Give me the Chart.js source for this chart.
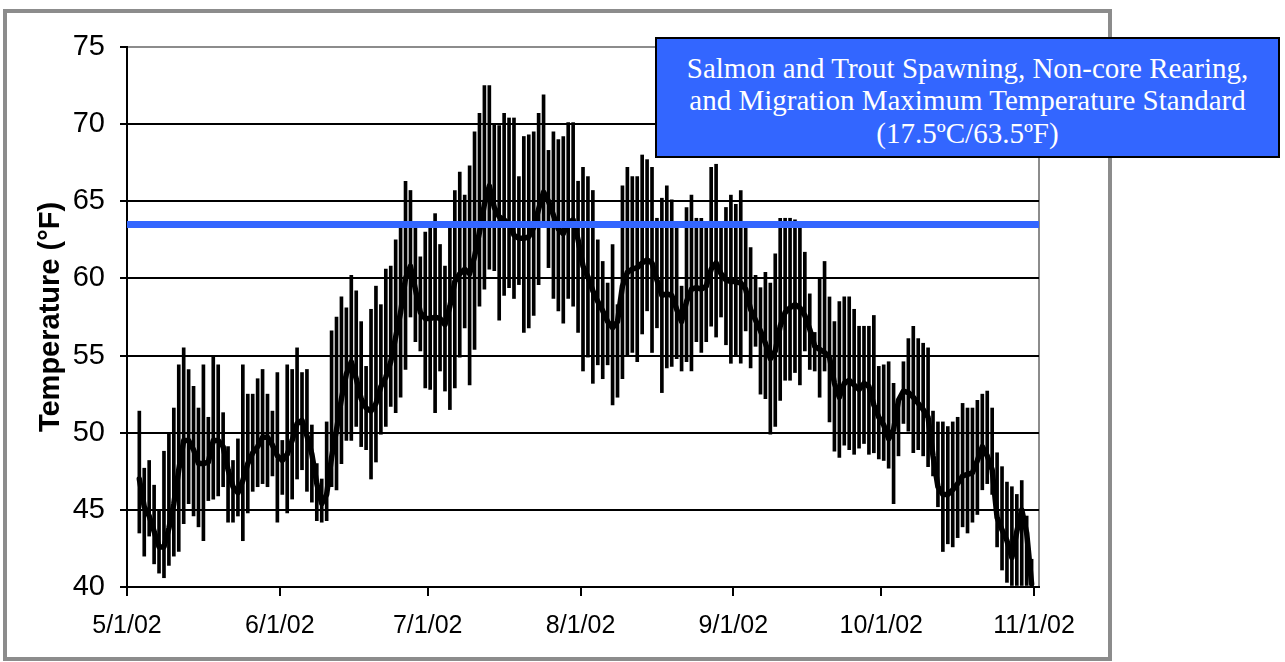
<!DOCTYPE html>
<html>
<head>
<meta charset="utf-8">
<title>Daily stream temperature, May–October 2002</title>
<script src="https://cdn.jsdelivr.net/npm/chart.js@4.4.1/dist/chart.umd.min.js"></script>
<style>
  html, body { margin: 0; padding: 0; background: #ffffff; }
  #wrap { position: relative; width: 1285px; height: 662px; overflow: hidden; }
  #frame { position: absolute; left: 3px; top: 9px; width: 1101px; height: 644px; border: 4px solid #8c8c8c; }
  #chart { position: absolute; left: 0; top: 0; }
  #note {
    position: absolute; left: 655px; top: 37px; width: 621px; height: 111px; padding-top: 6px;
    background: #3366ff; border: 2px solid #000; color: #ffffff;
    font-family: "Liberation Serif", "Times New Roman", serif; font-size: 29px; line-height: 32.5px;
    display: flex; align-items: center; justify-content: center; text-align: center;
  }
</style>
</head>
<body>
<div id="wrap">
  <div id="frame"></div>
  <canvas id="chart" width="1285" height="662"></canvas>
  <div id="note">Salmon and Trout Spawning, Non-core Rearing,<br>and Migration Maximum Temperature Standard<br>(17.5ºC/63.5ºF)</div>
</div>
<script>
// Days are counted from 5/1/02 (day 0); each reading sits in the middle of its day.
const FIRST_DAY = 2; // first record: 5/3/02

// Daily maximum temperature, °F
const dailyMax = [
  51.4, 47.7, 48.2, 46.6, 45.0, 48.8, 50.0, 51.6, 54.4, 55.5,
  54.1, 53.0, 51.6, 54.4, 51.0, 54.9, 54.4, 51.3, 49.1, 48.2,
  49.6, 54.4, 52.5, 52.5, 53.5, 54.1, 52.5, 51.4, 53.9, 49.5,
  54.4, 54.1, 55.5, 53.9, 54.1, 50.5, 48.0, 47.0, 50.7, 56.6,
  57.5, 58.8, 58.1, 60.2, 59.2, 57.2, 54.3, 58.0, 59.5, 58.3,
  60.6, 60.8, 62.5, 63.7, 66.3, 65.7, 63.7, 61.4, 63.0, 63.4,
  64.2, 62.2, 60.8, 63.5, 65.7, 66.9, 65.4, 67.3, 69.5, 70.7,
  72.5, 72.5, 70.0, 69.9, 70.7, 70.4, 70.4, 66.6, 69.2, 69.3,
  69.5, 70.7, 71.9, 68.3, 69.5, 69.0, 69.2, 70.1, 70.1, 66.3,
  67.2, 66.6, 65.7, 62.5, 61.1, 59.7, 62.2, 58.3, 66.0, 67.2,
  66.6, 66.6, 68.0, 67.7, 67.2, 63.9, 65.2, 66.0, 65.1, 63.5,
  59.5, 64.6, 65.4, 63.9, 63.9, 63.7, 67.2, 67.4, 63.4, 64.6,
  65.4, 64.8, 65.7, 63.7, 62.0, 60.2, 59.4, 60.4, 59.7, 61.6,
  63.9, 63.9, 63.9, 63.8, 63.7, 61.7, 59.0, 56.5, 60.0, 61.1,
  58.8, 57.2, 58.5, 58.8, 58.8, 58.0, 56.9, 56.9, 56.9, 57.6,
  54.3, 54.4, 54.6, 53.2, 52.2, 54.6, 56.1, 56.9, 56.1, 55.8,
  55.5, 51.4, 50.7, 50.7, 50.4, 50.7, 51.0, 51.9, 51.6, 51.6,
  52.1, 52.5, 52.7, 51.6, 48.7, 47.8, 46.8, 46.5, 46.0, 46.9,
  44.6, 41.8
];

// Daily minimum temperature, °F
const dailyMin = [
  43.5, 42.0, 43.3, 41.5, 40.9, 40.6, 41.4, 42.0, 42.3, 44.1,
  45.4, 44.6, 43.9, 43.0, 45.6, 45.7, 45.9, 46.5, 44.2, 44.2,
  44.6, 43.0, 44.8, 46.2, 46.5, 46.7, 46.5, 47.2, 44.2, 46.0,
  44.8, 45.7, 47.0, 47.6, 46.2, 45.5, 44.3, 44.2, 44.3, 46.5,
  46.3, 48.0, 49.5, 49.5, 50.4, 49.1, 48.9, 47.0, 48.1, 49.9,
  50.4, 51.7, 51.3, 52.3, 54.1, 57.5, 55.9, 55.3, 52.9, 52.8,
  51.3, 54.0, 52.7, 51.5, 52.9, 54.9, 56.8, 53.1, 55.4, 58.2,
  59.3, 60.6, 60.5, 57.3, 58.9, 59.4, 58.7, 59.6, 56.5, 56.8,
  57.6, 59.6, 63.7, 60.7, 58.7, 57.9, 57.1, 58.7, 58.2, 56.5,
  54.0, 54.9, 53.2, 54.4, 53.5, 54.4, 51.8, 52.3, 53.5, 55.0,
  55.2, 54.6, 56.4, 57.9, 55.2, 56.8, 52.6, 54.2, 54.3, 54.8,
  54.0, 54.6, 54.0, 55.9, 55.2, 55.9, 56.9, 56.2, 57.5, 55.7,
  54.5, 55.0, 54.5, 56.6, 54.2, 55.6, 52.5, 52.2, 49.9, 50.4,
  52.1, 53.4, 53.4, 53.9, 53.1, 55.3, 54.1, 54.0, 52.3, 54.0,
  50.7, 48.8, 48.4, 49.2, 48.9, 48.6, 49.0, 49.3, 48.6, 48.7,
  48.3, 48.2, 47.7, 45.4, 48.5, 50.6, 50.1, 48.7, 48.9, 48.5,
  47.8, 47.2, 45.2, 42.3, 42.8, 42.6, 43.2, 43.9, 43.5, 44.2,
  44.7, 46.3, 46.7, 46.0, 42.6, 41.1, 40.3, 40.1, 40.1, 40.1,
  40.1, 40.0
];

// Daily mean temperature, °F
const dailyMean = [
  47.0, 45.2, 44.6, 43.6, 42.6, 42.6, 43.8, 45.4, 47.6, 49.5,
  49.5, 48.9, 48.0, 48.0, 48.1, 49.5, 49.5, 49.1, 47.6, 46.5,
  46.1, 46.9, 48.0, 48.7, 49.1, 49.7, 49.7, 49.2, 48.5, 48.2,
  48.6, 49.5, 50.6, 50.8, 49.8, 48.6, 46.7, 45.4, 46.0, 48.4,
  50.2, 52.2, 53.8, 54.6, 53.5, 52.2, 51.6, 51.4, 51.9, 53.0,
  53.6, 54.6, 56.2, 57.8, 60.0, 60.8, 59.3, 57.8, 57.4, 57.4,
  57.5, 57.4, 57.0, 58.2, 59.8, 60.3, 60.6, 60.3, 61.4, 63.0,
  64.8, 66.0, 64.6, 64.0, 63.8, 63.5, 62.8, 62.6, 62.6, 62.7,
  63.3, 64.5, 65.6, 65.0, 64.1, 63.2, 62.9, 63.6, 63.8, 62.5,
  60.8, 60.1, 59.2, 58.5, 57.9, 57.2, 56.8, 57.2, 59.5, 60.4,
  60.6, 60.7, 61.0, 61.2, 61.0, 59.9, 58.9, 59.0, 58.9, 58.0,
  57.2, 58.5, 59.3, 59.4, 59.3, 59.5, 60.6, 61.0, 60.3, 59.9,
  59.8, 59.8, 59.7, 59.3, 58.0, 57.3, 56.6, 55.8, 54.8, 55.3,
  56.9, 57.8, 58.1, 58.3, 58.1, 57.6, 56.7, 55.6, 55.4, 55.2,
  54.9, 53.2, 52.3, 53.2, 53.4, 53.1, 52.8, 53.2, 53.0, 51.8,
  51.0, 50.5, 49.6, 50.2, 52.1, 52.7, 52.6, 52.3, 51.9, 51.5,
  51.0, 48.5, 46.5, 46.0, 46.0, 46.3, 46.7, 47.2, 47.3, 47.4,
  48.2, 49.1, 48.5, 47.6, 44.5, 43.7, 43.0, 41.9, 43.6, 45.0,
  43.5, 40.2
];

// Salmon and trout spawning / non-core rearing / migration maximum, °F
const STANDARD_F = 63.5;

// Month-start ticks (days from 5/1/02) and their labels
const monthTickDays = [0, 31, 61, 92, 123, 153, 184];
const monthTickLabels = ['5/1/02', '6/1/02', '7/1/02', '8/1/02', '9/1/02', '10/1/02', '11/1/02'];
const AXIS_END_DAY = 185;

// Temperature axis
const yTickValues = [40, 45, 50, 55, 60, 65, 70, 75];

const dayCenter = i => FIRST_DAY + i + 0.5;
const rangePoints = dailyMax.map((hi, i) => ({ x: dayCenter(i), y: [dailyMin[i], hi] }));
const meanPoints = dailyMean.map((v, i) => ({ x: dayCenter(i), y: v }));
const standardPoints = [{ x: 0, y: STANDARD_F }, { x: AXIS_END_DAY, y: STANDARD_F }];

const FONT = '"Liberation Sans", Arial, sans-serif';
const FRAME_GREY = '#8c8c8c';
const CLEAR = 'rgba(0,0,0,0)';

new Chart(document.getElementById('chart'), {
  type: 'bar',
  data: {
    datasets: [
      {
        type: 'line', label: 'Temperature standard', data: standardPoints,
        borderColor: '#3366ff', borderWidth: 7, pointRadius: 0, order: -1
      },
      {
        type: 'line', label: 'Daily mean', data: meanPoints,
        borderColor: '#000000', borderWidth: 5.5, pointRadius: 0, tension: 0,
        borderJoinStyle: 'round', borderCapStyle: 'round', order: 0
      },
      {
        type: 'bar', label: 'Daily range', data: rangePoints,
        backgroundColor: '#000000', borderWidth: 0, barThickness: 3, order: 1
      }
    ]
  },
  options: {
    responsive: false,
    animation: false,
    events: [],
    layout: { padding: { left: 0, top: 47, right: 1285 - 1039, bottom: 0 } },
    plugins: { legend: { display: false }, tooltip: { enabled: false } },
    scales: {
      x: {
        type: 'linear', min: 0, max: AXIS_END_DAY, offset: false,
        afterBuildTicks: s => { s.ticks = monthTickDays.concat([AXIS_END_DAY]).map(v => ({ value: v })); },
        afterFit: s => { s.height = 75; },
        ticks: {
          autoSkip: false, maxRotation: 0, padding: 15, color: '#000',
          font: { family: FONT, size: 25 },
          callback: v => { const k = monthTickDays.indexOf(v); return k >= 0 ? monthTickLabels[k] : ''; }
        },
        grid: {
          offset: false, drawOnChartArea: true, tickLength: 9, lineWidth: 2,
          color: c => (c.tick && c.tick.value === AXIS_END_DAY ? FRAME_GREY : CLEAR),
          tickColor: c => (c.tick && c.tick.value === AXIS_END_DAY ? CLEAR : '#000')
        },
        border: { display: true, color: '#000', width: 2 }
      },
      y: {
        min: 40, max: 75,
        afterBuildTicks: s => { s.ticks = yTickValues.map(v => ({ value: v })); },
        afterFit: s => { s.width = 127; },
        ticks: { padding: 15, color: '#000', font: { family: FONT, size: 29 } },
        grid: {
          lineWidth: 2, tickLength: 7,
          color: c => (c.tick && c.tick.value === 75 ? FRAME_GREY : '#000'),
          tickColor: '#000'
        },
        border: { display: true, color: '#000', width: 2 },
        title: {
          display: true, text: 'Temperature (°F)', color: '#000',
          font: { family: FONT, size: 29, weight: 'bold' },
          padding: { top: 34, bottom: 0 }
        }
      }
    }
  }
});
</script>
</body>
</html>
